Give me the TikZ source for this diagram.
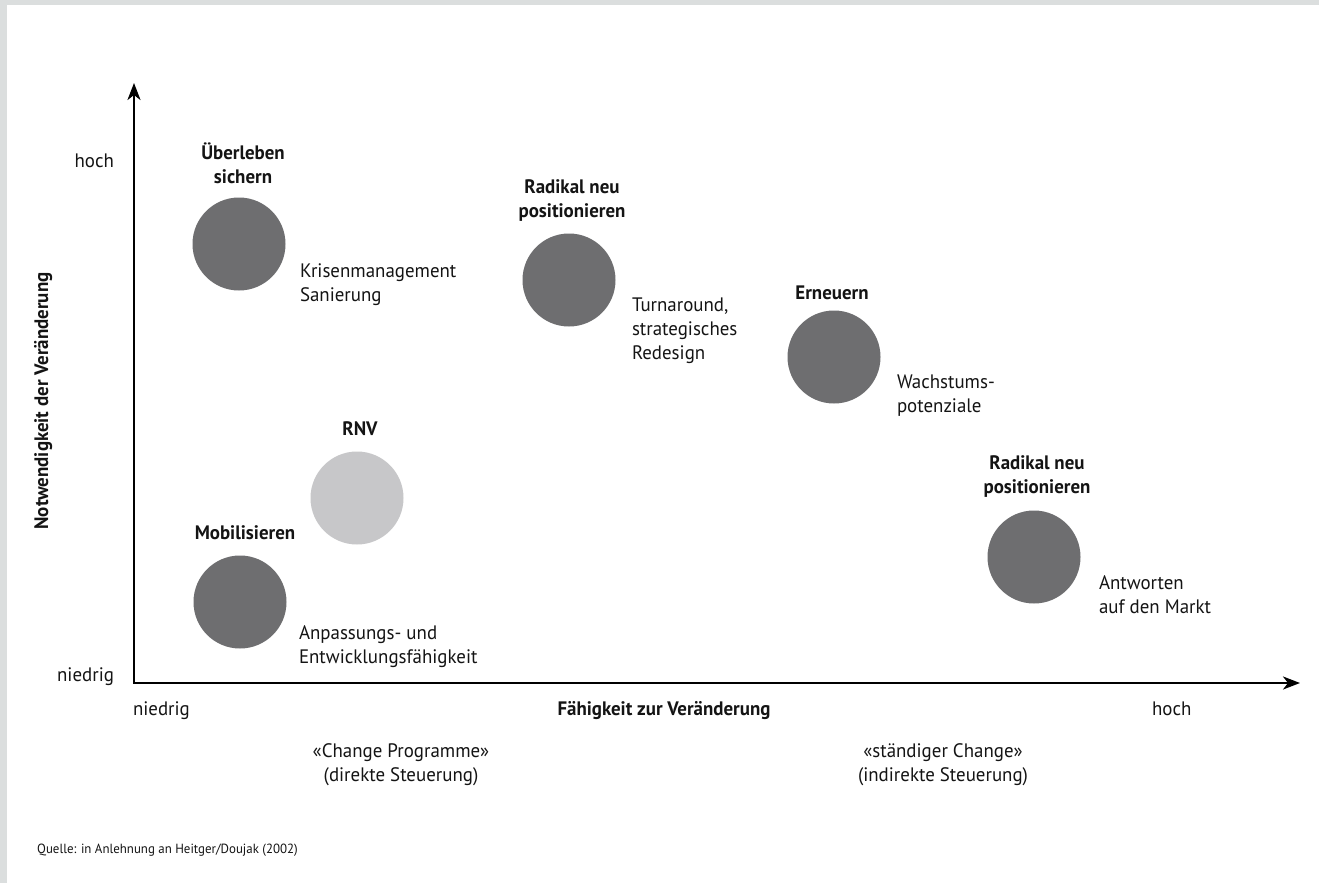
\documentclass[tikz,border=0pt]{standalone}
\usepackage{fontspec}
\setmainfont{PT Sans}[FakeStretch=0.97]
\usetikzlibrary{arrows.meta}
\usetikzlibrary{positioning}

\tikzset{
  bigdot/.style={circle,inner sep=0pt,outer sep=0pt,minimum size=93pt,fill=dotDark},
  faintdot/.style={bigdot,fill=dotLight},
  title/.style={text=inkColor,align=center,inner sep=0pt,outer sep=0pt,anchor=base,
    font=\fontsize{19.5}{24}\selectfont\bfseries},
  note/.style={text=inkColor,align=left,inner sep=0pt,outer sep=0pt,anchor=base west,
    font=\fontsize{19.5}{24}\selectfont},
  axislabel/.style={text=inkColor,inner sep=0pt,outer sep=0pt,
    font=\fontsize{19.5}{24}\selectfont},
  axis/.style={line width=2.5pt,line join=miter,draw=black,
    {Stealth[length=17pt,width=13pt,inset=5pt]}-{Stealth[length=17pt,width=13pt,inset=5pt]}}
}

\begin{document}
\begin{tikzpicture}[x=1pt,y=-1pt]
\definecolor[named]{frameColor}{rgb}{0.86,0.87,0.87}
\definecolor[named]{dotDark}{rgb}{0.43,0.43,0.44}
\definecolor[named]{dotLight}{rgb}{0.78,0.78,0.79}
\definecolor[named]{inkColor}{rgb}{0.08,0.08,0.08}
\path[use as bounding box,fill=white] (0,0) rectangle (1319,883);
\fill[frameColor] (0,0) rectangle (1319,5);
\fill[frameColor] (0,0) rectangle (7,883);

% axes
\coordinate (ytip) at (134,83);
\coordinate (origin) at (134,683);
\coordinate (xtip) at (1300,683);
\draw[axis] (ytip) -- (origin) -- (xtip);

\node[axislabel,anchor=base east] (yhigh) at (114,167) {hoch};
\node[axislabel,anchor=base east] (ylow) at (114,681) {niedrig};
\node[axislabel,anchor=base west] (xlow) at (133,715) {niedrig};
\node[axislabel,anchor=base west] (xhigh) at (1152,715) {hoch};
\node[axislabel,anchor=base,font=\fontsize{19.5}{24}\selectfont\bfseries] (xtitle) at (664,715) {Fähigkeit zur Veränderung};
\node[axislabel,anchor=base,rotate=90,font=\fontsize{19.5}{24}\selectfont\bfseries] (ytitle) at (48,401) {Notwendigkeit der Veränderung};

% last line of a multi-line node sits on the given baseline
\node[axislabel,align=center,anchor=base] (direct) at (401,781) {«Change Programme»\\(direkte Steuerung)};
\node[axislabel,align=center,anchor=base] (indirect) at (943,781) {«ständiger Change»\\(indirekte Steuerung)};

% circles
\node[bigdot] (survive) at (239,244) {};
\node[bigdot] (reposA) at (569,280) {};
\node[bigdot] (renew) at (834,357) {};
\node[bigdot] (reposB) at (1034,557) {};
\node[faintdot] (rnv) at (357,498) {};
\node[bigdot] (mobilize) at (240,602) {};

% titles
\node[title] (surviveT) at (243,183) {Überleben\\sichern};
\node[title] (reposAT) at (572,217) {Radikal neu\\positionieren};
\node[title] (renewT) at (832,299) {Erneuern};
\node[title] (reposBT) at (1037,493) {Radikal neu\\positionieren};
\node[title] (rnvT) at (360,435) {RNV};
\node[title] (mobilizeT) at (245,539) {Mobilisieren};

% notes
\node[note] (surviveN) at (300,301) {Krisenmanagement\\Sanierung};
\node[note] (reposAN) at (632,359) {Turnaround,\\strategisches\\Redesign};
\node[note] (renewN) at (897,412) {Wachstums-\\potenziale};
\node[note] (reposBN) at (1099,613) {Antworten\\auf den Markt};
\node[note] (mobilizeN) at (299,663) {Anpassungs- und\\Entwicklungsfähigkeit};

\node[text=inkColor,anchor=base west,inner sep=0pt,font=\fontsize{13.3}{16}\selectfont] (source) at (37,853) {Quelle: in Anlehnung an Heitger/Doujak (2002)};
\end{tikzpicture}
\end{document}
